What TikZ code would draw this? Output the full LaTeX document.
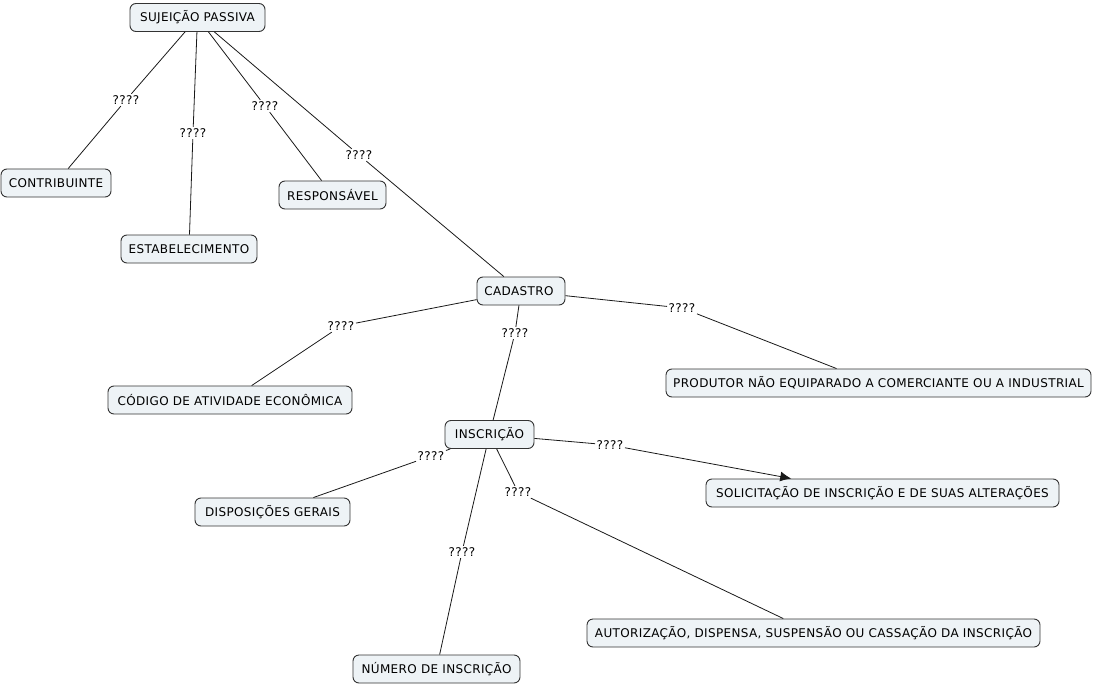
\documentclass[tikz,border=0pt]{standalone}
\usepackage{fontspec}
\usetikzlibrary{arrows.meta}
\setmainfont[LetterSpace=3]{DejaVu Sans}
\definecolor{boxfill}{HTML}{EEF3F6}
\definecolor{boxline}{HTML}{333333}
\begin{document}
\begin{tikzpicture}[x=1pt,y=-1pt,
  concept/.style={draw=boxline, fill=boxfill, rounded corners=6pt, line width=0.9pt,
    font=\fontsize{12}{14}\selectfont, inner xsep=0pt, minimum height=28pt},
  lab/.style={font=\fontsize{12}{14}\selectfont, inner sep=1.5pt, fill=white},
  link/.style={draw=black!90, line width=0.8pt}]
\useasboundingbox (0,0) rectangle (1094,687);

\node[concept, minimum width=135pt] (sp) at (197.5,17.5) {SUJEIÇÃO PASSIVA};
\node[concept, minimum width=110pt] (contr) at (56,183) {CONTRIBUINTE};
\node[concept, minimum width=136pt] (estab) at (189,249) {ESTABELECIMENTO};
\node[concept, minimum width=107pt] (resp) at (332.5,195) {RESPONSÁVEL};
\node[concept, minimum width=88pt] (cad) at (521,291) {CADASTRO\ \ };
\node[concept, minimum width=244pt] (cod) at (230,400) {CÓDIGO DE ATIVIDADE ECONÔMICA};
\node[concept, minimum width=425pt] (prod) at (878.5,383) {PRODUTOR NÃO EQUIPARADO A COMERCIANTE OU A INDUSTRIAL};
\node[concept, minimum width=89pt] (insc) at (489.5,434.5) {INSCRIÇÃO};
\node[concept, minimum width=155pt] (disp) at (272.5,512) {DISPOSIÇÕES GERAIS};
\node[concept, minimum width=353pt] (sol) at (882.5,493) {SOLICITAÇÃO DE INSCRIÇÃO E DE SUAS ALTERAÇÕES};
\node[concept, minimum width=453pt] (aut) at (813.5,633) {AUTORIZAÇÃO, DISPENSA, SUSPENSÃO OU CASSAÇÃO DA INSCRIÇÃO};
\node[concept, minimum width=167pt] (num) at (436.5,669) {NÚMERO DE INSCRIÇÃO};

\node[lab] (l1) at (126,100) {????};
\node[lab] (l2) at (193,133) {????};
\node[lab] (l3) at (265,106) {????};
\node[lab] (l4) at (359,155) {????};
\node[lab] (l5) at (341,326) {????};
\node[lab] (l6) at (515,333) {????};
\node[lab] (l7) at (682,308) {????};
\node[lab] (l8) at (610,445) {????};
\node[lab] (l9) at (431,456) {????};
\node[lab] (l10) at (518,492) {????};
\node[lab] (l11) at (462,552) {????};

\draw[link] (sp) -- (l1) -- (contr);
\draw[link] (sp) -- (l2) -- (estab);
\draw[link] (sp) -- (l3) -- (resp);
\draw[link] (sp) -- (l4) -- (cad);
\draw[link] (cad) -- (l5) -- (cod);
\draw[link] (cad) -- (l6) -- (insc);
\draw[link] (cad) -- (l7) -- (prod.161.8);
\draw[link] (insc) -- (l8);
\draw[link, -{Latex[length=11pt,width=10pt]}] (l8) -- (sol.171.5);
\draw[link] (insc) -- (l9) -- (disp);
\draw[link] (insc) -- (l10) -- (aut);
\draw[link] (insc) -- (l11) -- (num);
\end{tikzpicture}
\end{document}
